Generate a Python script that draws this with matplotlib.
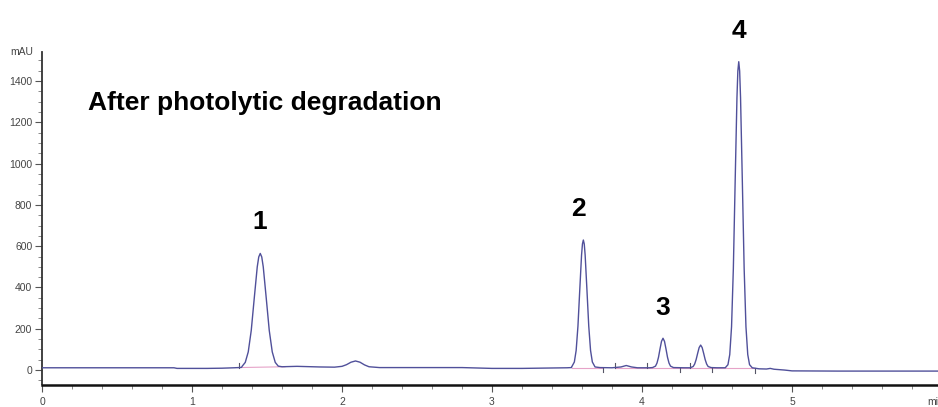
import matplotlib
matplotlib.use("Agg")
import matplotlib.pyplot as plt
from matplotlib.ticker import MultipleLocator, FixedLocator
import numpy as np

# ---------------- data ----------------
time_min = [0.00, 0.30, 0.60, 0.88, 0.90, 1.10, 1.20, 1.28, 1.31, 1.33,
            1.335, 1.355, 1.375, 1.395, 1.415, 1.435, 1.445, 1.455, 1.465, 1.475,
            1.495, 1.515, 1.535, 1.555, 1.575, 1.60, 1.70, 1.85, 1.95, 2.00,
            2.03, 2.06, 2.09, 2.12, 2.15, 2.18, 2.25, 2.50, 2.80, 3.00,
            3.20, 3.40, 3.50, 3.53,
            3.531, 3.549, 3.561, 3.573, 3.585, 3.597, 3.603, 3.609, 3.615, 3.621,
            3.633, 3.645, 3.657, 3.669, 3.687, 3.72, 3.80, 3.86, 3.895, 3.93,
            3.97, 4.05, 4.07, 4.09, 4.10, 4.11, 4.12, 4.13, 4.14, 4.15,
            4.16, 4.17, 4.18, 4.19, 4.21, 4.28, 4.321, 4.341, 4.351, 4.361,
            4.371, 4.381, 4.391, 4.401, 4.411, 4.421, 4.431, 4.441, 4.461, 4.50,
            4.555, 4.573, 4.585, 4.597, 4.609, 4.621, 4.633, 4.639, 4.645, 4.651,
            4.657, 4.669, 4.681, 4.693, 4.705, 4.717, 4.735, 4.78, 4.83, 4.855,
            4.88, 4.95, 5.00, 5.30, 5.60, 5.97]
signal_mau = [11, 11, 11, 11, 8, 8, 9, 11, 12, 13,
              19, 37, 88, 192, 348, 500, 548, 565, 548, 500,
              348, 192, 88, 37, 19, 16, 18, 15, 14, 18,
              26, 38, 44, 38, 25, 16, 12, 12, 12, 8,
              8, 10, 11, 12,
              15, 39, 95, 213, 387, 557, 611, 630, 611, 557,
              387, 213, 95, 39, 15, 12, 11, 15, 22, 15,
              11, 11, 12, 19, 34, 62, 102, 139, 154, 139,
              102, 62, 34, 19, 12, 11, 11, 17, 29, 51,
              81, 109, 121, 109, 81, 51, 29, 17, 12, 11,
              11, 26, 75, 210, 492, 911, 1319, 1449, 1494, 1449,
              1319, 911, 492, 210, 75, 26, 11, 6, 5, 8,
              4, 0, -4, -5, -5, -5]

# integration baselines (start t, start v, end t, end v)
baseline_t0 = [1.31, 3.53, 3.82]
baseline_v0 = [12, 12, 11]
baseline_t1 = [1.62, 3.74, 4.75]
baseline_v1 = [16, 12, 11]

# integration event marks (time, direction +1 up / -1 down)
mark_t = [1.31, 3.74, 3.82, 4.03, 4.25, 4.32, 4.465, 4.75]
mark_dir = [1, -1, 1, 1, -1, 1, -1, -1]

peak_labels = ["1", "2", "3", "4"]
peak_label_t = [1.453, 3.575, 4.138, 4.649]
peak_label_v = [682, 746, 266, 1608]

x_major = [0, 1, 2, 3, 4, 5]
y_major = [0, 200, 400, 600, 800, 1000, 1200, 1400]

title = "After photolytic degradation"

# ---------------- figure ----------------
W, H = 938, 407
fig = plt.figure(figsize=(W / 100, H / 100), dpi=100)
ax = fig.add_axes([42 / W, 1 - 384.5 / H, 1 - 42 / W, (384.5 - 52) / H])

trace_color = "#50509a"
ax.plot(time_min, signal_mau, color=trace_color, lw=1.0, zorder=3)

for t0, v0, t1, v1 in zip(baseline_t0, baseline_v0, baseline_t1, baseline_v1):
    ax.plot([t0, t1], [v0, v1], color="#e6a3c8", lw=0.8, zorder=2)

for t, d in zip(mark_t, mark_dir):
    v = float(np.interp(t, time_min, signal_mau))
    ax.plot([t, t], [v, v + d * 22], color="#555566", lw=0.8, zorder=2)

ax.set_xlim(0, (W - 42) / 150)
ax.set_ylim(-70, 1541)

for s in ["top", "right"]:
    ax.spines[s].set_visible(False)
ax.spines["left"].set_linewidth(1.3)
ax.spines["left"].set_color("#333333")
ax.spines["bottom"].set_linewidth(1.8)
ax.spines["bottom"].set_color("#111111")

ax.xaxis.set_major_locator(FixedLocator(x_major))
ax.xaxis.set_minor_locator(MultipleLocator(0.2))
ax.yaxis.set_major_locator(FixedLocator(y_major))
ax.yaxis.set_minor_locator(MultipleLocator(50))

tick_font = ["Liberation Sans Narrow", "Liberation Sans", "DejaVu Sans"]
ax.tick_params(axis="both", which="major", direction="out", length=5, width=0.8,
               color="#555555", labelsize=7.5, labelcolor="#444444")
ax.tick_params(axis="both", which="minor", direction="out", length=3, width=0.6,
               color="#777777")
ax.tick_params(axis="y", which="major", pad=2)
ax.tick_params(axis="x", which="major", pad=4)
ax.set_xticklabels([str(v) for v in x_major])
ax.set_yticklabels([str(v) for v in y_major])
for lab in ax.get_xticklabels() + ax.get_yticklabels():
    lab.set_family(tick_font)

fig.text(33 / W, 1 - 52 / H, "mAU", ha="right", va="center", fontsize=7.5,
         color="#444444", family=tick_font)
fig.text(927 / W, 1 - 402 / H, "min", ha="left", va="center", fontsize=7.5,
         color="#444444", family=tick_font)

fig.text(88 / W, 1 - 110 / H, title, ha="left", va="baseline", fontsize=19,
         fontweight="bold", family=["Liberation Sans", "DejaVu Sans"], color="black")

for lab, t, v in zip(peak_labels, peak_label_t, peak_label_v):
    ax.text(t, v, lab, ha="center", va="baseline", fontsize=19, fontweight="bold",
            family=["Liberation Sans", "DejaVu Sans"], color="black", clip_on=False)

fig.savefig("out.png", dpi=100)
